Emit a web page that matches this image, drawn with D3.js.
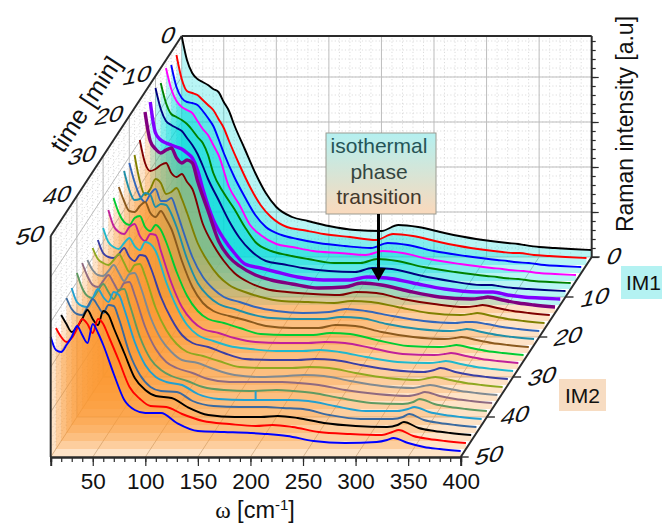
<!DOCTYPE html>
<html><head><meta charset="utf-8">
<script src="https://cdnjs.cloudflare.com/ajax/libs/d3/7.8.5/d3.min.js"></script>
<style>html,body{margin:0;padding:0;background:#fff;overflow:hidden}svg{display:block}text{font-family:"Liberation Sans",Arial,sans-serif}</style>
</head><body><svg id="c" width="662" height="525"></svg>
<script>
const omega=[10,15,20,25,30,35,40,45,50,55,60,70,80,90,100,115,130,150,175,200,216,235,260,290,320,330,336,350,365,380,400];
const times=d3.range(0,51,2);
const colors=["#000000","#ff0000","#0000ff","#ff00ff","#008000","#000080","#8000ff","#800080","#800000","#808000","#3366bb","#1f8fa8","#8b5a1e","#00cc33","#c0209a","#20b8cc","#3a3fa5","#8fa820","#808a92","#8f6a80","#5f9a62","#22a0d0","#3a6aa0","#000000","#ff0000","#0000ff"];
const s00=[221,197,184,178,175,172,168,165,155,146,132,108,84,64,50,40,36,31,27,26,32,30,24,18,14,13,12,10,9,8,7];
const s02=[210,186,174,172,170,165,160,155,146,137,124,100,78,60,48,38,35,31,28,25,31,29,23,17,13,12,12,10,9,8,7];
const s04=[208,186,175,171,170,168,162,155,147,134,120,96,76,58,46,38,34,30,27,25,30,28,22,17,13,12,11,10,8,7,6];
const s06=[213,192,180,174,171,168,160,152,146,136,126,94,76,56,46,37,34,30,28,26,30,28,22,17,13,12,11,10,8,7,6];
const s08=[206,186,175,172,169,165,159,152,146,134,116,96,80,62,47,38,34,30,26,26,30,28,22,17,13,12,11,10,8,7,6];
const s10=[209,188,176,172,169,166,159,152,143,131,118,97,76,59,47,36,33,29,26,25,29,28,22,16,12,12,11,9,8,7,6];
const s12=[203,172,165,162,160,158,156,152,147,135,116,85,66,52,41,37,33,28,25,25,28,27,22,16,13,13,13,10,8,7,6];
const s14=[201,172,164,160,163,165,155,150,153,150,132,102,72,56,47,38,33,29,25,26,30,28,22,16,14,15,16,13,10,8,6];
const s16=[181,158,150,152,156,158,148,144,147,139,132,97,76,60,48,38,32,29,27,26,29,28,22,17,14,15,16,13,10,8,6];
const s18=[174,148,134,140,150,146,135,137,141,130,116,86,67,53,44,37,32,28,27,26,28,27,22,16,14,15,16,13,10,8,6];
const s20=[174,155,141,135,143,148,136,136,139,126,110,80,60,48,40,35,30,26,24,25,28,26,21,16,14,15,15,13,10,8,6];
const s22=[174,155,145,146,152,150,138,141,140,131,118,86,62,49,41,36,31,27,26,26,28,27,21,16,14,15,16,13,10,8,6];
const s24=[166,152,142,141,147,151,140,136,142,134,124,92,66,50,42,37,33,27,25,25,28,27,21,16,14,15,16,13,10,8,6];
const s26=[163,148,139,136,143,145,134,130,136,131,119,89,65,50,42,38,33,27,26,26,28,27,21,15,14,15,16,13,10,8,6];
const s28=[159,143,137,135,142,145,133,128,135,134,118,86,62,48,40,36,31,27,26,26,27,26,21,15,14,15,16,13,10,8,6];
const s30=[149,135,130,128,134,139,131,127,135,133,126,95,70,52,42,36,31,28,26,26,27,25,20,15,14,15,16,13,10,8,6];
const s32=[145,132,128,127,131,137,128,124,130,129,118,88,66,50,42,38,32,26,25,25,26,25,20,15,13,15,17,13,10,8,6];
const s34=[145,134,130,128,133,139,130,121,128,129,117,85,63,49,41,37,32,26,25,25,26,25,20,15,13,15,16,13,10,8,6];
const s36=[141,131,126,125,130,136,128,120,127,128,116,84,62,49,41,38,32,26,24,25,26,25,20,15,13,15,16,13,10,8,6];
const s38=[146,133,124,122,128,134,126,118,126,127,114,82,60,47,41,36,30,27,27,27,26,24,19,15,13,15,17,13,10,8,6];
const s40=[144,129,121,119,126,133,125,118,127,128,113,80,58,47,41,36,30,27,26,27,26,24,19,14,13,15,18,13,10,8,6];
const s42=[137,123,119,118,127,136,128,123,133,130,116,83,60,48,43,40,31,26,25,25,25,24,19,14,14,16,18,13,10,8,6];
const s44=[135,124,119,118,126,134,127,120,128,127,114,80,58,46,42,41,32,27,26,26,25,24,18,14,14,16,19,13,10,8,6];
const s46=[126,117,109,114,122,131,122,116,130,126,113,88,63,51,45,43,34,26,24,24,25,23,18,15,14,16,19,13,10,8,6];
const s48=[121,112,107,111,120,130,125,116,130,125,113,88,62,50,43,42,35,28,25,23,24,22,17,15,14,17,19,13,10,8,6];
const s50=[120,107,105,112,120,131,122,114,133,124,112,83,57,47,44,44,34,26,25,24,23,21,16,14,15,17,19,14,10,8,6];
const spectra=[s00,s02,s04,s06,s08,s10,s12,s14,s16,s18,s20,s22,s24,s26,s28,s30,s32,s34,s36,s38,s40,s42,s44,s46,s48,s50];
const boldSeries=[6,7];
const im1Last=6;
const wTicks=d3.range(50,401,50), wMinor=d3.range(10,401,10), tTicks=[0,10,20,30,40,50];
const zMajor=[45,90,135,180], zMinor=d3.range(9,221,9);
const boxLines=["isothermal","phase","transition"];

const svg=d3.select("#c");
const defs=svg.append("defs");
const x=d3.scaleLinear().domain([10,400]).range([50.7,460.7]);
const dx=d3.scaleLinear().domain([50,0]).range([0,131]);
const yb=d3.scaleLinear().domain([0,50]).range([257,457]);
const z=d3.scaleLinear().domain([0,221]).range([0,221]);
const P=(w,t,v)=>[x(w)+dx(t),yb(t)-z(v)];

const line=(a,b,st,sw,dash)=>svg.append("line").attr("x1",a[0]).attr("y1",a[1]).attr("x2",b[0]).attr("y2",b[1]).attr("stroke",st).attr("stroke-width",sw).attr("stroke-dasharray",dash||null);
const MAJ="#bdbdbd",MIN="#dcdcdc",DOT="1.2 2.2";
wMinor.forEach(w=>{ if(w%50&&w>10){ line(P(w,0,0),P(w,0,221),MIN,1,DOT);} });
zMinor.forEach(v=>{ line(P(10,0,v),P(400,0,v),MIN,1,DOT); line(P(10,0,v),P(10,50,v),MIN,1,DOT); });
d3.range(2,50,2).forEach(t=>{ line(P(10,t,0),P(10,t,221),MIN,1,DOT); });
wTicks.forEach(w=>{ if(w<400){ line(P(w,0,0),P(w,0,221),MAJ,1); } line(P(w,0,0),P(w,50,0),"#c9c0b6",1); });
zMajor.forEach(v=>{ line(P(10,0,v),P(400,0,v),MAJ,1); line(P(10,0,v),P(10,50,v),MAJ,1); });
[10,20,30,40].forEach(t=>{ line(P(10,t,0),P(10,t,221),MAJ,1); line(P(10,t,0),P(400,t,0),"#c9c0b6",1); });
line(P(10,0,0),P(10,0,221),MAJ,1);
line(P(10,0,0),P(400,0,0),"#c9c0b6",1);
line(P(10,0,0),P(10,50,0),"#c9b8a6",1);

times.forEach((t,i)=>{
  const a=d3.area().curve(d3.curveMonotoneX).x(d=>P(d.w,t,0)[0]).y0(yb(t)).y1(d=>P(d.w,t,d.v)[1]);
  svg.append("path").attr("d",a(spectra[i].map((v,k)=>({w:omega[k],v}))))
    .attr("fill",i<=im1Last?"#00dcdc":"#fa9630").attr("fill-opacity",i<=im1Last?0.28:0.27);
});
times.forEach((t,i)=>{
  const l=d3.line().curve(d3.curveMonotoneX).x(d=>P(d.w,t,d.v)[0]).y(d=>P(d.w,t,d.v)[1]);
  svg.append("path").attr("d",l(spectra[i].map((v,k)=>({w:omega[k],v}))))
    .attr("fill","none").attr("stroke",colors[i]).attr("stroke-width",boldSeries.includes(i)?3.4:1.9).attr("stroke-linejoin","round");
});
line(P(185,42,24),P(185,42,34),colors[21],2);

const FR="#2b2b2b";
line(P(10,0,221),P(400,0,221),FR,2);
line(P(400,0,0),P(400,0,221),FR,2);
line(P(10,0,221),P(10,50,221),FR,2);
line(P(10,50,0),P(10,50,221),FR,2);
line(P(400,0,0),P(400,50,0),FR,2);

const axB=svg.append("g").attr("transform","translate(0,457)");
axB.append("g").call(d3.axisBottom(x).tickValues(wMinor).tickSize(5).tickFormat(""));
axB.append("g").call(d3.axisBottom(x).tickValues(wTicks).tickSize(9).tickPadding(7).tickFormat(d3.format("d")));
axB.selectAll("path").attr("stroke",FR).attr("stroke-width",2);
axB.selectAll("line").attr("stroke",FR).attr("stroke-width",1.2);
axB.selectAll("text").attr("font-size",22.5).attr("fill","#111").attr("font-family",'"Liberation Sans",Arial,sans-serif');
const zs=d3.scaleLinear().domain([0,221]).range([257,36]);
const axR=svg.append("g").attr("transform","translate(591.7,0)");
axR.append("g").call(d3.axisRight(zs).tickValues(zMinor).tickSize(4).tickFormat(""));
axR.append("g").call(d3.axisRight(zs).tickValues([0,...zMajor]).tickSize(7).tickFormat(""));
axR.selectAll("path").remove();
axR.selectAll("line").attr("stroke",FR).attr("stroke-width",1.2);
tTicks.forEach(t=>{const p=P(400,t,0); line(p,[p[0]+8,p[1]],FR,1.4);});

const tlab=(t,cx,cy)=>svg.append("text").attr("transform",`translate(${cx},${cy}) rotate(-10) skewX(-28) scale(1.22,1)`).attr("text-anchor","middle").attr("font-size",21).attr("fill","#111").text(t);
[[612,264],[593,305],[566,344],[540,384],[513,423],[487,463]].forEach((c,k)=>tlab(tTicks[k],c[0],c[1]));
[[166,43],[135,83],[107,123],[80,163],[55,203],[28,243]].forEach((c,k)=>tlab(tTicks[k],c[0],c[1]));

svg.append("text").attr("transform","translate(93,109) rotate(-56.8)").attr("text-anchor","middle").attr("font-size",25).attr("fill","#111").text("time [min]");
svg.append("text").attr("transform","translate(633,124) rotate(-90)").attr("text-anchor","middle").attr("font-size",23).attr("fill","#111").text("Raman intensity [a.u]");
const xl=svg.append("text").attr("x",255).attr("y",518).attr("text-anchor","middle").attr("font-size",23.5).attr("fill","#111");
xl.append("tspan").attr("font-family",'"Liberation Serif",serif').text("ω");
xl.append("tspan").text(" [cm");
xl.append("tspan").attr("font-size",15).attr("dy",-8).text("-1");
xl.append("tspan").attr("dy",8).text("]");

const g1=defs.append("linearGradient").attr("id","bx").attr("x1",0).attr("y1",0).attr("x2",0).attr("y2",1);
g1.append("stop").attr("offset","0").attr("stop-color","#b4f0f0");
g1.append("stop").attr("offset","1").attr("stop-color","#fad9bc");
const g2=defs.append("linearGradient").attr("id","tx").attr("gradientUnits","userSpaceOnUse").attr("x1",0).attr("y1",133).attr("x2",0).attr("y2",214);
g2.append("stop").attr("offset","0").attr("stop-color","#1c5a60");
g2.append("stop").attr("offset","1").attr("stop-color","#4a2f1e");
svg.append("rect").attr("x",326).attr("y",133).attr("width",110).attr("height",81).attr("fill","url(#bx)").attr("stroke","#9a9a90").attr("stroke-width",1);
boxLines.forEach((s,k)=>svg.append("text").attr("x",379).attr("y",153+k*25.5).attr("text-anchor","middle").attr("font-size",21).attr("fill","url(#tx)").text(s));
line([378.5,214],[378.5,270],"#000",3);
svg.append("path").attr("d",d3.line()([[371,268],[386,268],[378.5,281]])).attr("fill","#000");

svg.append("rect").attr("x",621).attr("y",266).attr("width",41).attr("height",33).attr("fill","#b4f2f2");
svg.append("text").attr("x",626).attr("y",290).attr("font-size",21).attr("fill","#111").text("IM1");
svg.append("rect").attr("x",559).attr("y",379).attr("width",47).attr("height",32).attr("fill","#f7dcc2");
svg.append("text").attr("x",582.5).attr("y",403).attr("text-anchor","middle").attr("font-size",21).attr("fill","#111").text("IM2");
</script></body></html>
